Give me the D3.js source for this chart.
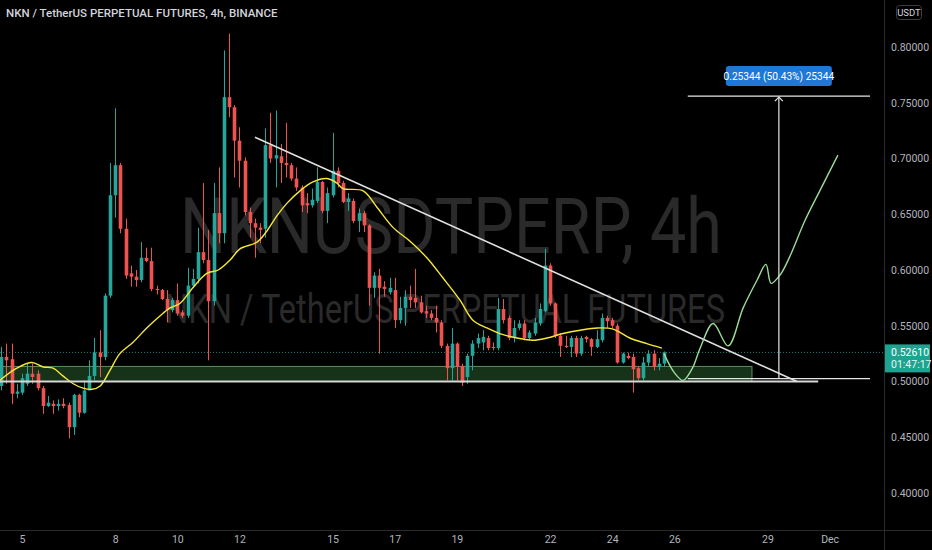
<!DOCTYPE html>
<html><head><meta charset="utf-8">
<script src="https://cdn.jsdelivr.net/npm/d3@7"></script>
<style>html,body{margin:0;padding:0;background:#000;overflow:hidden}</style>
</head><body><svg id="c" width="932" height="550"></svg>
<script>
const title = "NKN / TetherUS PERPETUAL FUTURES, 4h, BINANCE";
const watermark1 = "NKNUSDTPERP, 4h";
const watermark2 = "NKN / TetherUS PERPETUAL FUTURES";
// bars are 4h, counted from 5 Nov 00:00
const firstBar = -4;
const opens = [
0.496,0.522,0.520,0.489,0.490,0.498,0.507,0.507,0.494,0.478,
0.480,0.478,0.480,0.479,0.459,0.488,0.472,0.492,0.505,0.526,
0.522,0.577,0.667,0.694,0.637,0.597,0.594,0.591,0.611,0.608,
0.583,0.582,0.574,0.564,0.573,0.562,0.559,0.586,0.592,0.616,
0.609,0.572,0.651,0.633,0.755,0.746,0.716,0.698,0.652,0.642,
0.638,0.637,0.712,0.700,0.702,0.696,0.694,0.682,0.674,0.660,
0.658,0.662,0.679,0.653,0.667,0.689,0.678,0.661,0.662,0.644,
0.651,0.640,0.584,0.595,0.585,0.580,0.582,0.555,0.566,0.576,
0.575,0.571,0.563,0.561,0.557,0.553,0.532,0.512,0.534,0.514,
0.504,0.523,0.534,0.535,0.539,0.531,0.530,0.565,0.557,0.539,
0.548,0.552,0.539,0.543,0.552,0.563,0.604,0.570,0.541,0.532,
0.531,0.539,0.525,0.540,0.538,0.531,0.537,0.557,0.555,0.550,
0.517,0.523,0.522,0.512,0.503,0.517,0.525,0.513,0.516];
const highs = [
0.531,0.534,0.534,0.498,0.507,0.516,0.516,0.510,0.496,0.487,
0.483,0.484,0.485,0.481,0.489,0.489,0.501,0.519,0.539,0.546,
0.579,0.696,0.745,0.696,0.646,0.604,0.600,0.625,0.620,0.620,
0.586,0.583,0.582,0.575,0.588,0.564,0.602,0.601,0.638,0.678,
0.636,0.678,0.692,0.797,0.812,0.748,0.728,0.701,0.656,0.646,
0.642,0.727,0.741,0.743,0.713,0.732,0.696,0.692,0.676,0.669,
0.673,0.692,0.680,0.674,0.723,0.692,0.680,0.669,0.664,0.655,
0.653,0.641,0.598,0.601,0.590,0.593,0.593,0.576,0.582,0.586,
0.601,0.577,0.568,0.564,0.568,0.555,0.534,0.548,0.535,0.516,
0.525,0.537,0.543,0.546,0.541,0.535,0.575,0.574,0.559,0.555,
0.555,0.555,0.546,0.557,0.570,0.619,0.606,0.571,0.543,0.541,
0.541,0.541,0.541,0.541,0.539,0.546,0.561,0.559,0.557,0.552,
0.526,0.526,0.525,0.514,0.522,0.528,0.528,0.521,0.527];
const lows = [
0.492,0.498,0.480,0.485,0.488,0.496,0.498,0.492,0.471,0.477,
0.471,0.474,0.476,0.449,0.452,0.468,0.471,0.492,0.501,0.504,
0.519,0.575,0.647,0.633,0.592,0.585,0.585,0.589,0.607,0.581,
0.578,0.573,0.553,0.562,0.559,0.557,0.557,0.584,0.588,0.606,
0.519,0.568,0.624,0.624,0.737,0.683,0.674,0.649,0.629,0.611,
0.624,0.629,0.696,0.674,0.678,0.683,0.680,0.671,0.652,0.651,
0.656,0.660,0.651,0.642,0.665,0.674,0.660,0.653,0.642,0.634,
0.634,0.568,0.575,0.525,0.576,0.578,0.548,0.552,0.550,0.566,
0.566,0.561,0.557,0.555,0.544,0.530,0.501,0.501,0.501,0.496,
0.498,0.510,0.530,0.528,0.528,0.528,0.528,0.552,0.537,0.535,
0.546,0.537,0.537,0.541,0.550,0.562,0.568,0.539,0.522,0.530,
0.522,0.522,0.523,0.535,0.523,0.530,0.535,0.548,0.548,0.516,
0.516,0.520,0.490,0.501,0.501,0.514,0.510,0.510,0.513];
const closes = [
0.522,0.519,0.489,0.491,0.503,0.507,0.504,0.494,0.478,0.481,
0.478,0.480,0.478,0.459,0.488,0.472,0.492,0.505,0.526,0.522,
0.577,0.667,0.694,0.637,0.595,0.594,0.591,0.611,0.608,0.583,
0.582,0.574,0.564,0.573,0.561,0.559,0.586,0.592,0.616,0.609,
0.572,0.651,0.633,0.755,0.746,0.716,0.698,0.652,0.642,0.638,
0.636,0.712,0.700,0.703,0.696,0.694,0.682,0.674,0.658,0.658,
0.663,0.679,0.653,0.669,0.689,0.678,0.661,0.664,0.644,0.651,
0.640,0.584,0.595,0.584,0.583,0.584,0.555,0.566,0.576,0.573,
0.571,0.562,0.561,0.557,0.553,0.532,0.512,0.534,0.513,0.499,
0.523,0.534,0.539,0.540,0.530,0.530,0.565,0.555,0.539,0.548,
0.552,0.539,0.544,0.553,0.565,0.604,0.570,0.541,0.532,0.531,
0.539,0.525,0.539,0.538,0.531,0.538,0.557,0.554,0.550,0.517,
0.525,0.521,0.511,0.503,0.517,0.525,0.513,0.516,0.5261];

const maBars = [-4.3,-1,1.9,4.1,6,7.9,9.9,11.8,13.5,15.1,17,18.9,21.4,24.1,26.7,28.6,30.5,33,35.7,37.9,40.2,42.1,45.4,47.3,49.3,51.2,53.7,56.2,58.9,60.8,62,65.9,68.6,71.7,74.9,78.2,81.3,84.6,87.1,89.8,92.3,95.6,98.7,101.4,104.5,107.8,111.1,114.2,117.4,120.7,123.6];
const maValues = [0.501,0.512,0.517,0.513,0.512,0.505,0.498,0.494,0.493,0.496,0.510,0.525,0.535,0.548,0.559,0.566,0.570,0.584,0.597,0.600,0.609,0.619,0.625,0.635,0.649,0.660,0.671,0.679,0.682,0.678,0.673,0.671,0.656,0.638,0.626,0.611,0.593,0.573,0.555,0.548,0.543,0.539,0.537,0.539,0.543,0.546,0.548,0.547,0.539,0.534,0.530];

const projBars = [124,126,127.7,129.5,131,133.5,136.4,139.3,142,143.7,144.7,146.5,148.3,151.2,154.1,157.6];
const projValues = [0.525,0.508,0.501,0.512,0.530,0.552,0.532,0.566,0.591,0.605,0.588,0.596,0.612,0.644,0.671,0.703];

const trendBars = [45.0, 149.7];
const trendValues = [0.719, 0.500];
const supportBars = [-5, 153.8];
const supportValue = 0.5;
const zoneBars = [-5, 141];
const zoneValues = [0.5, 0.5135];
const rangeBars = [128.6, 163.8];
const rangeValues = [0.50256, 0.756];
const rangeLabel = "0.25344 (50.43%) 25344";
const lastPrice = 0.5261;
const lastPriceLabel = "0.52610";
const countdown = "01:47:17";
const currency = "USDT";
const yTicks = [0.40,0.45,0.50,0.55,0.60,0.65,0.70,0.75,0.80];
const xTickBars = [0,18,30,42,60,72,84,102,114,126,144,156];
const xTickLabels = ["5","8","10","12","15","17","19","22","24","26","29","Dec"];

const W = 932, H = 550, plotR = 884, plotB = 530;
const svg = d3.select("#c");
svg.append("rect").attr("width",W).attr("height",H).attr("fill","#000");

const x = d3.scaleLinear().domain([-22/5.177, 862/5.177]).range([0, plotR]);
const y = d3.scaleLinear().domain([0.4, 0.8]).range([493, 47]);

svg.append("clipPath").attr("id","pc").append("rect").attr("x",0).attr("y",0).attr("width",plotR).attr("height",plotB);
const g = svg.append("g").attr("clip-path","url(#pc)");

// watermark
g.append("text").attr("x",451).attr("y",253).attr("text-anchor","middle")
  .attr("font-family","Roboto, 'Noto Sans', sans-serif").attr("font-size",78)
  .attr("textLength",542).attr("lengthAdjust","spacingAndGlyphs")
  .attr("fill","#2a2a2a").text(watermark1);
g.append("text").attr("x",445).attr("y",323).attr("text-anchor","middle")
  .attr("font-family","Roboto, 'Noto Sans', sans-serif").attr("font-size",40)
  .attr("textLength",560).attr("lengthAdjust","spacingAndGlyphs")
  .attr("fill","#2a2a2a").text(watermark2);

// zone
g.append("rect").attr("x",x(zoneBars[0])).attr("width",x(zoneBars[1])-x(zoneBars[0]))
  .attr("y",y(zoneValues[1])).attr("height",y(zoneValues[0])-y(zoneValues[1]))
  .attr("fill","#16331a").attr("stroke","#5d8f5f").attr("stroke-width",1);

// current price dotted line
g.append("line").attr("x1",0).attr("x2",plotR).attr("y1",y(lastPrice)).attr("y2",y(lastPrice))
  .attr("stroke","#26a69a").attr("stroke-width",1).attr("stroke-dasharray","1,2").attr("opacity",0.8);

// candles
const bars = opens.map((o,i)=>({b:firstBar+i,o,h:highs[i],l:lows[i],c:closes[i]}));
const cg = g.append("g");
bars.forEach(d=>{
  const col = d.c >= d.o ? "#26a69a" : "#ef5350";
  const cx = Math.round(x(d.b)) + 0.5;
  cg.append("line").attr("x1",cx).attr("x2",cx).attr("y1",y(d.h)).attr("y2",y(d.l)).attr("stroke",col).attr("stroke-width",1);
  const top = y(Math.max(d.o,d.c)), bot = y(Math.min(d.o,d.c));
  cg.append("rect").attr("x",cx-1.8).attr("width",3.6).attr("y",top).attr("height",Math.max(1,bot-top)).attr("fill",col);
});

// MA
g.append("path").datum(maBars.map((b,i)=>[b,maValues[i]]))
  .attr("d",d3.line().x(d=>x(d[0])).y(d=>y(d[1])).curve(d3.curveCatmullRom))
  .attr("fill","none").attr("stroke","#f5e837").attr("stroke-width",1.4);

// support line
g.append("line").attr("x1",x(supportBars[0])).attr("x2",x(supportBars[1]))
  .attr("y1",y(supportValue)).attr("y2",y(supportValue))
  .attr("stroke","#d6d6d6").attr("stroke-width",2);

// trendline
g.append("line").attr("x1",x(trendBars[0])).attr("x2",x(trendBars[1]))
  .attr("y1",y(trendValues[0])).attr("y2",y(trendValues[1]))
  .attr("stroke","#e0e0e0").attr("stroke-width",1.6);

// projection
g.append("path").datum(projBars.map((b,i)=>[b,projValues[i]]))
  .attr("d",d3.line().x(d=>x(d[0])).y(d=>y(d[1])).curve(d3.curveCatmullRom))
  .attr("fill","none").attr("stroke","#9bdc9a").attr("stroke-width",1.4);

// price range tool
const rx1 = x(rangeBars[0]), rx2 = x(rangeBars[1]), rcx = (rx1+rx2)/2;
const ry1 = y(rangeValues[0]), ry2 = y(rangeValues[1]);
[ry1, ry2].forEach(yy=>g.append("line").attr("x1",rx1).attr("x2",rx2).attr("y1",yy).attr("y2",yy)
  .attr("stroke","#e6e6e6").attr("stroke-width",1.2));
g.append("line").attr("x1",rcx).attr("x2",rcx).attr("y1",ry1).attr("y2",ry2+1)
  .attr("stroke","#e6e6e6").attr("stroke-width",1.2);
g.append("path").attr("d",`M${rcx-4},${ry2+5}L${rcx},${ry2+1}L${rcx+4},${ry2+5}`)
  .attr("fill","none").attr("stroke","#e6e6e6").attr("stroke-width",1.2);
g.append("rect").attr("x",rcx-53).attr("y",ry2-30).attr("width",106).attr("height",20).attr("rx",3)
  .attr("fill","#1f77d6");
g.append("text").attr("x",rcx).attr("y",ry2-16.5).attr("text-anchor","middle")
  .attr("font-family","Roboto, sans-serif").attr("font-size",10.2).attr("fill","#fff").text(rangeLabel);

// title
svg.append("text").attr("x",6).attr("y",17).attr("font-family","Roboto, 'Noto Sans', sans-serif")
  .attr("font-size",11.5).attr("font-weight",500).attr("fill","#d1d4dc").text(title);

// axes borders
svg.append("line").attr("x1",plotR+0.5).attr("x2",plotR+0.5).attr("y1",0).attr("y2",H).attr("stroke","#2a2a2a");
svg.append("line").attr("x1",0).attr("x2",W).attr("y1",plotB+0.5).attr("y2",plotB+0.5).attr("stroke","#2a2a2a");

// y axis labels
const yAxis = d3.axisRight(y).tickValues(yTicks).tickFormat(d3.format(".5f")).tickSize(0).tickPadding(7);
const ya = svg.append("g").attr("transform",`translate(${plotR},0)`).call(yAxis);
ya.select(".domain").remove();
ya.selectAll("text").attr("font-family","Roboto, sans-serif").attr("font-size",10.5).attr("fill","#b2b5be");

// x axis labels
const xAxis = d3.axisBottom(x).tickValues(xTickBars).tickFormat((d,i)=>xTickLabels[i]).tickSize(0).tickPadding(6);
const xa = svg.append("g").attr("transform",`translate(0,${plotB})`).call(xAxis);
xa.select(".domain").remove();
xa.selectAll("text").attr("font-family","Roboto, sans-serif").attr("font-size",10.5).attr("fill","#b2b5be");

// currency box
svg.append("rect").attr("x",896.5).attr("y",5.5).attr("width",25).attr("height",14).attr("rx",3)
  .attr("fill","none").attr("stroke","#3a3d45");
svg.append("text").attr("x",909).attr("y",16).attr("text-anchor","middle").attr("font-family","Roboto, sans-serif")
  .attr("font-size",9.5).attr("fill","#d1d4dc").text(currency);

// last price label
const lp = y(lastPrice);
svg.append("rect").attr("x",plotR+1).attr("y",lp-8).attr("width",45).attr("height",28).attr("fill","#1fa391");
svg.append("text").attr("x",plotR+7).attr("y",lp+3.5).attr("font-family","Roboto, sans-serif")
  .attr("font-size",10.5).attr("fill","#fff").text(lastPriceLabel);
svg.append("text").attr("x",plotR+7).attr("y",lp+16).attr("font-family","Roboto, sans-serif")
  .attr("font-size",10.5).attr("fill","#e8f5f3").text(countdown);
</script></body></html>
